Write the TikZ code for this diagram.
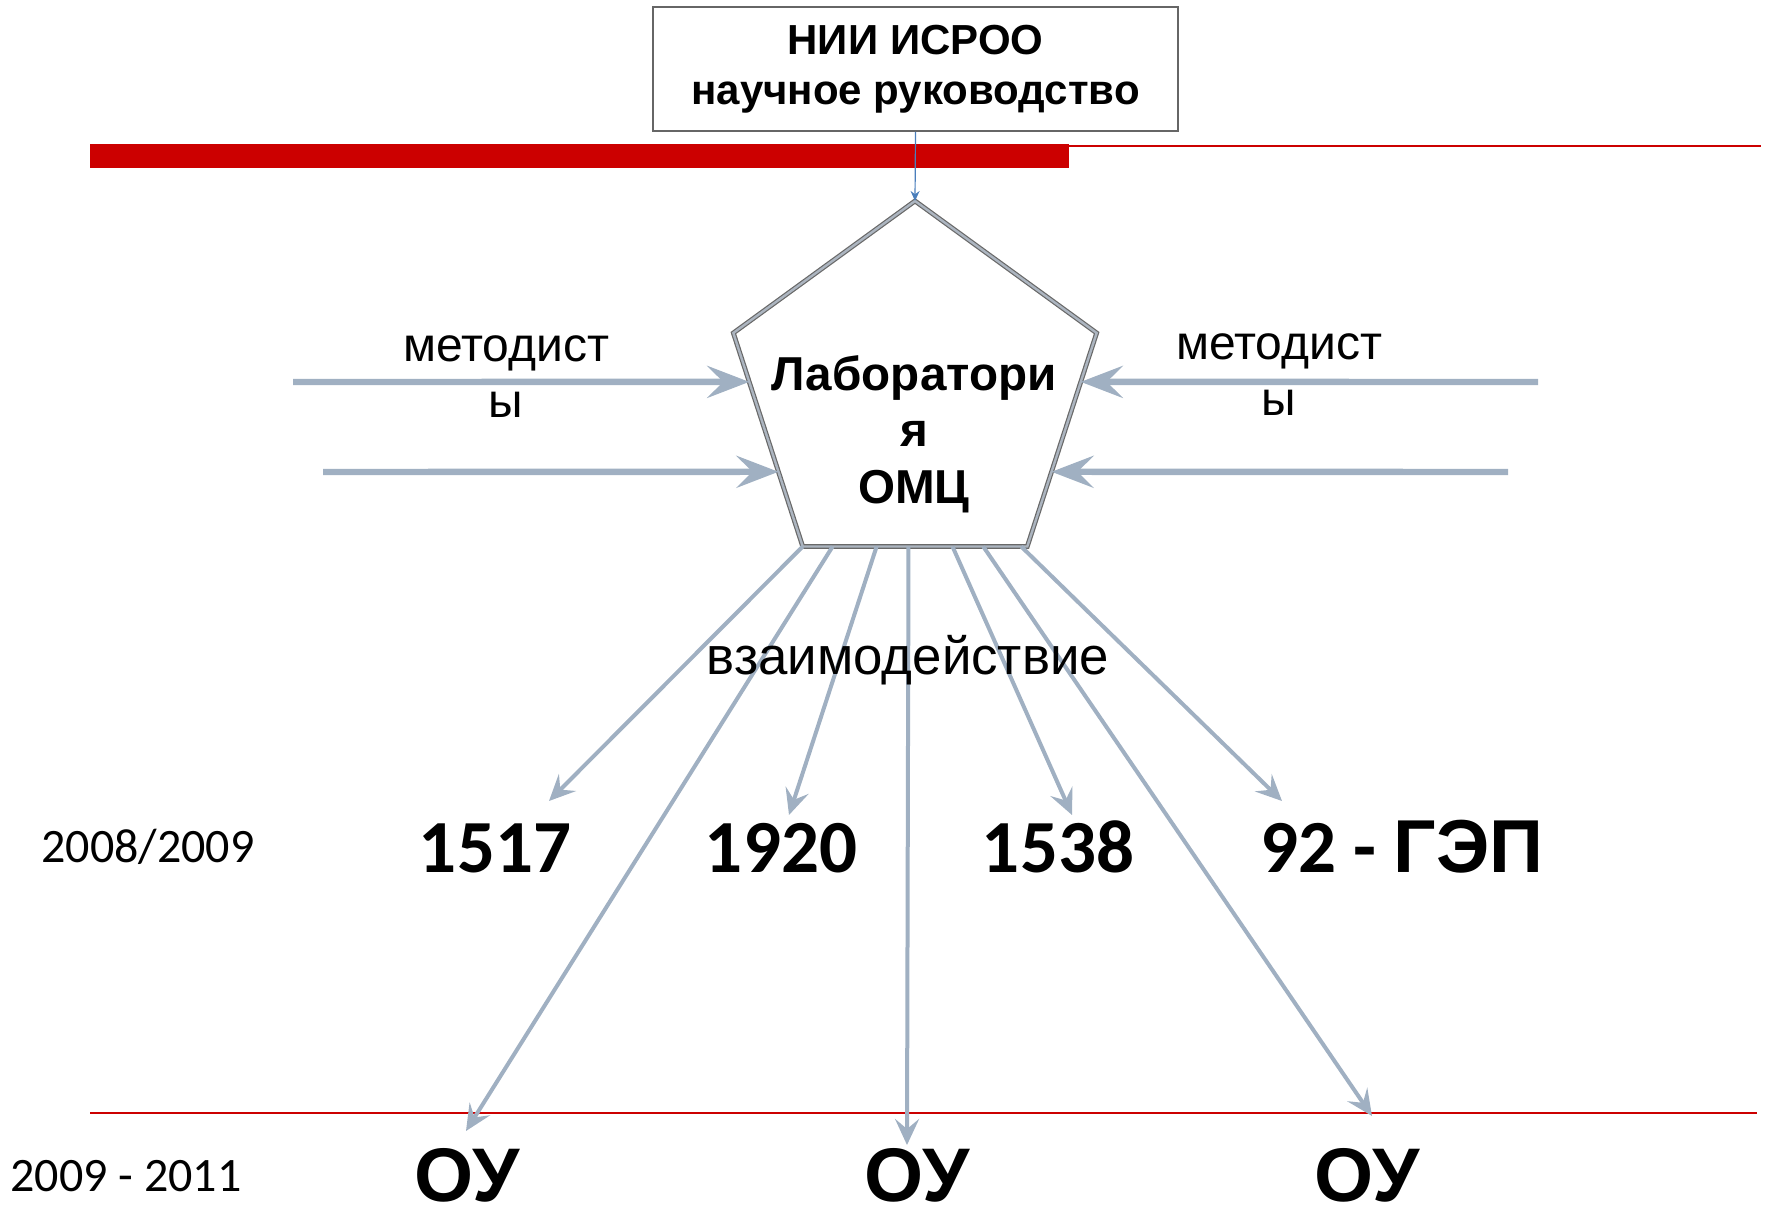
\documentclass[tikz,border=0pt]{standalone}
\usepackage{fontspec}
\setmainfont{Liberation Sans}
\newfontfamily\calfont{Carlito}
\usetikzlibrary{shapes.geometric,arrows.meta,calc}
\definecolor{arrgray}{RGB}{160,176,194}
\definecolor{redbar}{RGB}{204,0,0}
\definecolor{bluearr}{RGB}{74,126,187}
\definecolor{boxgray}{RGB}{102,102,102}
\definecolor{pentdark}{RGB}{105,105,105}
\definecolor{pentmid}{RGB}{172,181,192}
\begin{document}
\begin{tikzpicture}[x=0.5pt,y=-0.5pt,
  sidearrow/.style={draw=arrgray, line width=3.2pt, -{Stealth[length=21pt,width=16pt,inset=8pt]}},
  downarrow/.style={draw=arrgray, line width=2pt, -{Stealth[length=13pt,width=12pt,inset=5pt]}},
  lbl/.style={inner sep=0pt, font=\fontsize{24pt}{28pt}\selectfont, align=center},
  num/.style={inner sep=0pt, anchor=base, font=\calfont\bfseries\fontsize{37.5pt}{40pt}\selectfont},
  year/.style={inner sep=0pt, anchor=base, font=\calfont\fontsize{24pt}{28pt}\selectfont},
  ou/.style={inner sep=0pt, anchor=base, font=\bfseries\fontsize{38pt}{40pt}\selectfont},
]
\useasboundingbox (0,0) rectangle (1768,1214);

% red lines
\fill[redbar] (90,144) rectangle (1069,168);
\draw[redbar, line width=1pt] (1069,146) -- (1761,146);
\draw[redbar, line width=1pt] (90,1113) -- (1757,1113);

% top box
\node[draw=boxgray, line width=1pt, minimum width=262.5pt, minimum height=62pt,
      inner sep=0pt, align=center, font=\bfseries\fontsize{21pt}{25pt}\selectfont]
      (nii) at (915.5,69) {НИИ ИСРОО\\научное руководство};

% pentagon
\node[regular polygon, regular polygon sides=5, minimum size=191pt, inner sep=0pt,
      outer sep=0pt, draw=pentdark, line width=0.6pt, double=pentmid,
      double distance=1.2pt] (lab) at (915,392) {};
\node[align=center, inner sep=0pt, font=\bfseries\fontsize{23.8pt}{28.25pt}\selectfont]
      (labtext) at (914,434) {Лаборатори\\я\\ОМЦ};

\draw[bluearr, line width=0.6pt, -{Stealth[length=5pt,width=4.5pt]}] (nii.south) -- (lab.corner 1);

% side arrows
\coordinate (l1) at (293,382);
\coordinate (l2) at (323,472);
\coordinate (r1) at (1538,382);
\coordinate (r2) at (1508,472);
\draw[sidearrow] (l1) -- ($(lab.corner 2)!0.229!(lab.corner 3)$);
\draw[sidearrow] (l2) -- ($(lab.corner 2)!0.65!(lab.corner 3)$);
\draw[sidearrow] (r1) -- ($(lab.corner 5)!0.229!(lab.corner 4)$);
\draw[sidearrow] (r2) -- ($(lab.corner 5)!0.65!(lab.corner 4)$);

% bottom arrows
\coordinate (b1) at ($(lab.corner 3)!0!(lab.corner 4)$);
\coordinate (b2) at ($(lab.corner 3)!0.133!(lab.corner 4)$);
\coordinate (b3) at ($(lab.corner 3)!0.329!(lab.corner 4)$);
\coordinate (b4) at ($(lab.corner 3)!0.471!(lab.corner 4)$);
\coordinate (b5) at ($(lab.corner 3)!0.667!(lab.corner 4)$);
\coordinate (b6) at ($(lab.corner 3)!0.804!(lab.corner 4)$);
\coordinate (b7) at ($(lab.corner 3)!0.973!(lab.corner 4)$);
\coordinate (t1517) at (549,801);
\coordinate (tou1) at (466,1131);
\coordinate (t1920) at (789,815);
\coordinate (tou2) at (907,1145);
\coordinate (t1538) at (1072,815);
\coordinate (tou3) at (1372,1116);
\coordinate (t92) at (1282,801);
\draw[downarrow] (b1) -- (t1517);
\draw[downarrow] (b2) -- (tou1);
\draw[downarrow] (b3) -- (t1920);
\draw[downarrow] (b4) -- (tou2);
\draw[downarrow] (b5) -- (t1538);
\draw[downarrow] (b6) -- (tou3);
\draw[downarrow] (b7) -- (t92);

% labels
\node[lbl] (m1) at (506,377) {методист\\ы};
\node[lbl] (m2) at (1279,375) {методист\\ы};
\node[lbl, anchor=base, font=\fontsize{26.4pt}{30pt}\selectfont] (vz) at (908,674) {взаимодействие};
\node[year] (y1) at (148,862) {2008/2009};
\node[year] (y2) at (126,1191) {2009 - 2011};
\node[num] (n1517) at (495,872) {1517};
\node[num] (n1920) at (781,872) {1920};
\node[num] (n1538) at (1058,872) {1538};
\node[num] (n92) at (1402,872) {92 - {\rmfamily ГЭП}};
\node[ou] (ou1) at (467,1201) {ОУ};
\node[ou] (ou2) at (917,1201) {ОУ};
\node[ou] (ou3) at (1367,1201) {ОУ};
\end{tikzpicture}
\end{document}
